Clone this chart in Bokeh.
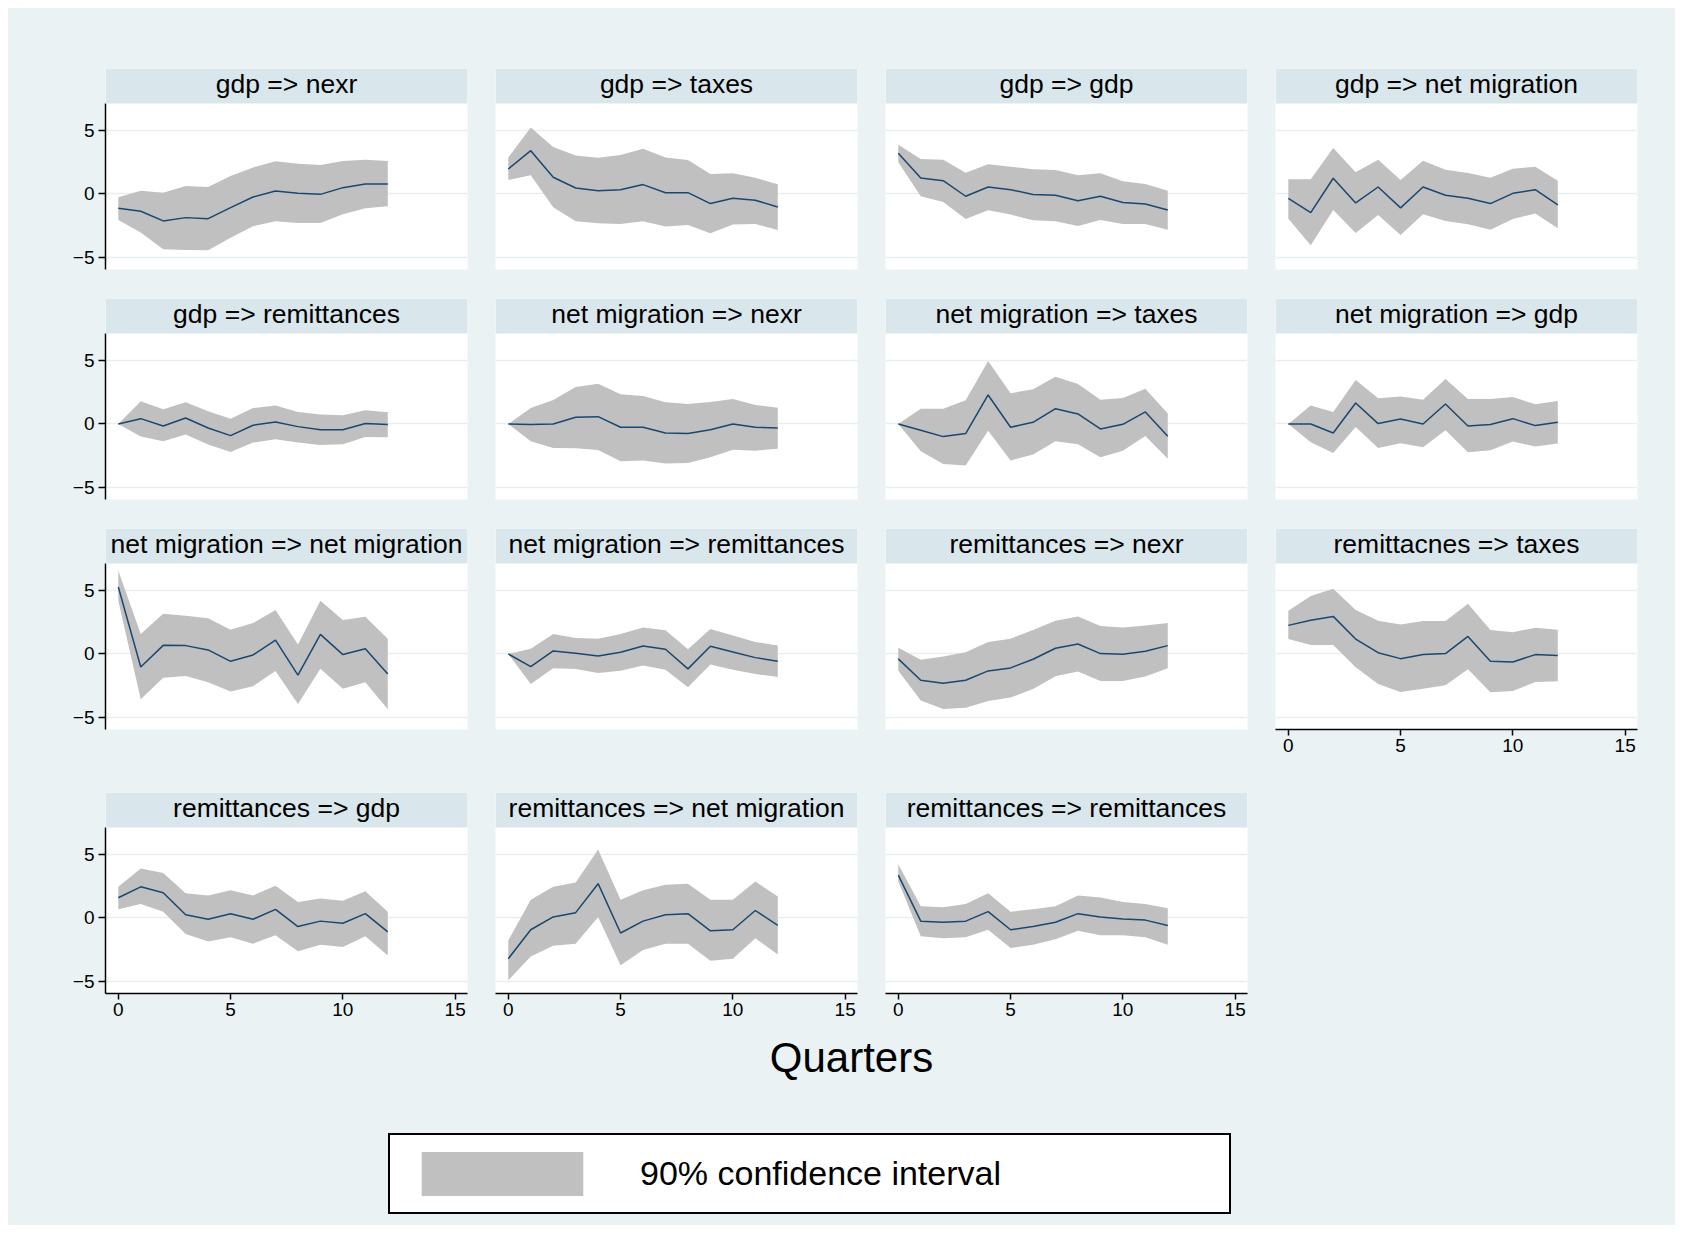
from bokeh.plotting import figure
from bokeh.models import (BoxAnnotation, Label, LinearAxis, FixedTicker, Grid, Range1d,
                          Legend, LegendItem, Spacer)
from bokeh.layouts import row, column
from bokeh.embed import file_html
from bokeh.resources import INLINE

# ---------------- data ----------------
quarters = list(range(13))
x_ticks = [0, 5, 10, 15]
y_ticks = [-5, 0, 5]
y_tick_labels = {-5: "\u22125", 0: "0", 5: "5"}

gdp_nexr_irf = [-1.13, -1.37, -2.13, -1.87, -1.95, -1.08, -0.24, 0.24, 0.05, -0.03, 0.50, 0.79, 0.79]
gdp_nexr_hi = [-0.26, 0.26, 0.10, 0.63, 0.55, 1.42, 2.10, 2.58, 2.39, 2.29, 2.60, 2.71, 2.60]
gdp_nexr_lo = [-2.05, -3.05, -4.37, -4.42, -4.45, -3.47, -2.55, -2.16, -2.29, -2.29, -1.60, -1.13, -0.97]

gdp_taxes_irf = [1.97, 3.42, 1.32, 0.47, 0.26, 0.34, 0.74, 0.10, 0.10, -0.76, -0.34, -0.50, -1.03]
gdp_taxes_hi = [2.89, 5.26, 3.71, 3.05, 2.87, 3.08, 3.58, 2.89, 2.68, 1.58, 1.63, 1.29, 0.76]
gdp_taxes_lo = [1.10, 1.47, -1.05, -2.16, -2.32, -2.37, -2.16, -2.58, -2.45, -3.10, -2.42, -2.37, -2.84]

gdp_gdp_irf = [3.21, 1.26, 1.05, -0.18, 0.55, 0.34, -0.05, -0.10, -0.53, -0.18, -0.68, -0.79, -1.26]
gdp_gdp_hi = [3.89, 2.76, 2.71, 1.68, 2.34, 2.16, 1.95, 1.89, 1.47, 1.63, 1.00, 0.79, 0.26]
gdp_gdp_lo = [2.50, -0.18, -0.63, -1.97, -1.29, -1.63, -2.08, -2.16, -2.53, -2.05, -2.37, -2.37, -2.82]

gdp_mig_irf = [-0.34, -1.47, 1.24, -0.71, 0.55, -1.10, 0.55, -0.10, -0.34, -0.76, 0.05, 0.34, -0.87]
gdp_mig_hi = [1.16, 1.16, 3.63, 1.71, 2.71, 1.10, 2.63, 1.92, 1.66, 1.29, 2.00, 2.16, 1.05]
gdp_mig_lo = [-1.95, -4.05, -1.26, -3.08, -1.66, -3.24, -1.60, -2.13, -2.39, -2.82, -1.97, -1.55, -2.71]

gdp_rem_irf = [0.00, 0.42, -0.16, 0.47, -0.32, -0.92, -0.10, 0.16, -0.21, -0.45, -0.45, 0.03, -0.05]
gdp_rem_hi = [0.00, 1.79, 1.16, 1.71, 1.00, 0.42, 1.26, 1.45, 0.95, 0.74, 0.68, 1.08, 0.92]
gdp_rem_lo = [0.00, -1.00, -1.37, -0.84, -1.63, -2.21, -1.47, -1.21, -1.47, -1.66, -1.60, -1.03, -1.05]

mig_nexr_irf = [0.00, -0.05, 0.00, 0.53, 0.58, -0.26, -0.26, -0.71, -0.76, -0.45, 0.00, -0.26, -0.32]
mig_nexr_hi = [0.00, 1.26, 1.89, 2.92, 3.18, 2.34, 2.21, 1.71, 1.58, 1.74, 1.97, 1.50, 1.29]
mig_nexr_lo = [0.00, -1.37, -1.89, -1.92, -2.05, -2.95, -2.89, -3.13, -3.08, -2.63, -2.03, -2.11, -1.95]

mig_taxes_irf = [0.00, -0.50, -1.00, -0.76, 2.29, -0.26, 0.13, 1.21, 0.79, -0.39, -0.03, 0.95, -0.97]
mig_taxes_hi = [0.00, 1.21, 1.21, 1.87, 4.97, 2.42, 2.74, 3.74, 3.16, 1.92, 2.05, 2.79, 0.82]
mig_taxes_lo = [0.00, -2.16, -3.16, -3.29, -0.53, -2.89, -2.42, -1.37, -1.60, -2.63, -2.11, -0.95, -2.74]

mig_gdp_irf = [0.00, 0.00, -0.71, 1.66, 0.03, 0.39, 0.00, 1.58, -0.16, -0.05, 0.42, -0.13, 0.13]
mig_gdp_hi = [0.00, 1.45, 0.95, 3.47, 2.03, 2.18, 1.92, 3.55, 1.97, 1.97, 2.13, 1.55, 1.82]
mig_gdp_lo = [0.00, -1.45, -2.29, -0.24, -1.89, -1.53, -1.84, -0.50, -2.24, -2.08, -1.39, -1.79, -1.55]

mig_mig_irf = [5.29, -1.03, 0.68, 0.66, 0.32, -0.58, -0.08, 1.10, -1.68, 1.55, -0.05, 0.42, -1.58]
mig_mig_hi = [6.58, 1.58, 3.18, 3.03, 2.82, 1.92, 2.45, 3.47, 0.74, 4.21, 2.68, 2.95, 1.21]
mig_mig_lo = [4.21, -3.58, -1.87, -1.74, -2.24, -2.97, -2.55, -1.34, -3.95, -1.16, -2.74, -2.24, -4.37]

mig_rem_irf = [0.00, -1.00, 0.24, 0.05, -0.16, 0.13, 0.63, 0.37, -1.18, 0.61, 0.16, -0.29, -0.58]
mig_rem_hi = [0.00, 0.42, 1.58, 1.26, 1.21, 1.58, 2.10, 1.87, 0.37, 1.97, 1.45, 0.95, 0.66]
mig_rem_lo = [0.00, -2.37, -1.13, -1.18, -1.50, -1.32, -0.92, -1.24, -2.63, -0.84, -1.24, -1.58, -1.82]

rem_nexr_irf = [-0.39, -2.08, -2.32, -2.08, -1.34, -1.10, -0.42, 0.45, 0.79, 0.03, -0.03, 0.21, 0.66]
rem_nexr_hi = [0.50, -0.45, -0.21, 0.13, 0.95, 1.21, 1.89, 2.63, 2.97, 2.21, 2.10, 2.24, 2.45]
rem_nexr_lo = [-1.32, -3.68, -4.34, -4.26, -3.71, -3.45, -2.76, -1.76, -1.39, -2.13, -2.13, -1.79, -1.13]

rem_taxes_irf = [2.26, 2.66, 2.97, 1.18, 0.10, -0.37, -0.05, 0.03, 1.39, -0.58, -0.63, -0.05, -0.13]
rem_taxes_hi = [3.42, 4.58, 5.16, 3.47, 2.63, 2.32, 2.61, 2.61, 3.97, 1.89, 1.71, 2.08, 1.92]
rem_taxes_lo = [1.18, 0.71, 0.71, -1.05, -2.37, -3.00, -2.74, -2.47, -1.21, -3.03, -2.92, -2.21, -2.16]

rem_gdp_irf = [1.60, 2.46, 2.00, 0.25, -0.10, 0.34, -0.10, 0.68, -0.68, -0.25, -0.42, 0.34, -1.10]
rem_gdp_hi = [2.46, 3.90, 3.56, 1.95, 1.78, 2.20, 1.78, 2.54, 1.27, 1.53, 1.36, 2.12, 0.50]
rem_gdp_lo = [0.68, 1.10, 0.50, -1.27, -1.86, -1.53, -2.03, -1.36, -2.63, -2.12, -2.29, -1.44, -2.97]

rem_mig_irf = [-3.22, -0.93, 0.08, 0.42, 2.71, -1.19, -0.25, 0.25, 0.34, -1.02, -0.93, 0.59, -0.59]
rem_mig_hi = [-1.78, 1.44, 2.46, 2.80, 5.42, 1.44, 2.20, 2.63, 2.71, 1.44, 1.44, 2.88, 1.69]
rem_mig_lo = [-4.92, -3.05, -2.20, -2.03, 0.08, -3.73, -2.54, -2.03, -2.03, -3.39, -3.22, -1.61, -2.88]

rem_rem_irf = [3.39, -0.25, -0.34, -0.25, 0.50, -0.93, -0.68, -0.34, 0.34, 0.08, -0.08, -0.17, -0.59]
rem_rem_hi = [4.24, 0.93, 0.85, 1.10, 1.95, 0.50, 0.68, 0.93, 1.78, 1.61, 1.27, 1.10, 0.76]
rem_rem_lo = [2.88, -1.44, -1.61, -1.53, -0.93, -2.37, -2.12, -1.69, -1.02, -1.36, -1.36, -1.53, -2.12]

titles = [
    "gdp => nexr", "gdp => taxes", "gdp => gdp", "gdp => net migration",
    "gdp => remittances", "net migration => nexr", "net migration => taxes", "net migration => gdp",
    "net migration => net migration", "net migration => remittances", "remittances => nexr", "remittacnes => taxes",
    "remittances => gdp", "remittances => net migration", "remittances => remittances",
]
series = [
    (gdp_nexr_irf, gdp_nexr_lo, gdp_nexr_hi), (gdp_taxes_irf, gdp_taxes_lo, gdp_taxes_hi),
    (gdp_gdp_irf, gdp_gdp_lo, gdp_gdp_hi), (gdp_mig_irf, gdp_mig_lo, gdp_mig_hi),
    (gdp_rem_irf, gdp_rem_lo, gdp_rem_hi), (mig_nexr_irf, mig_nexr_lo, mig_nexr_hi),
    (mig_taxes_irf, mig_taxes_lo, mig_taxes_hi), (mig_gdp_irf, mig_gdp_lo, mig_gdp_hi),
    (mig_mig_irf, mig_mig_lo, mig_mig_hi), (mig_rem_irf, mig_rem_lo, mig_rem_hi),
    (rem_nexr_irf, rem_nexr_lo, rem_nexr_hi), (rem_taxes_irf, rem_taxes_lo, rem_taxes_hi),
    (rem_gdp_irf, rem_gdp_lo, rem_gdp_hi), (rem_mig_irf, rem_mig_lo, rem_mig_hi),
    (rem_rem_irf, rem_rem_lo, rem_rem_hi),
]
x_title = "Quarters"
legend_label = "90% confidence interval"

# ---------------- style ----------------
BG = "#EAF2F3"
STRIP = "#D9E6EB"
BAND = "#C0C0C0"
LINE = "#1A476F"
GRIDC = "#E6EEF1"
FONT = "Liberation Sans"

X0, X1 = -0.57, 15.55
Y0, Y1 = -5.97, 7.15
PLOT_H, HEAD_H, FRAME_W = 166, 35, 362
FRAME_H = PLOT_H + HEAD_H
YTOP = Y1 + (Y1 - Y0) * HEAD_H / PLOT_H

COL_L = [97, 14, 14, 14]
COL_R = [14, 14, 14, 38]
ROW_T = [60, 0, 0, 0]
ROW_B = [29, 29, 63, 40]
TOTAL_W = 1667
TOTAL_H = 1217


def style_axis(ax):
    ax.axis_line_color = "black"
    ax.axis_line_width = 1.5
    ax.major_tick_line_color = "black"
    ax.major_tick_line_width = 1.5
    ax.major_tick_out = 7
    ax.major_tick_in = 0
    ax.minor_tick_line_color = None
    ax.major_label_text_font = FONT
    ax.major_label_text_font_size = "19px"
    ax.major_label_text_color = "black"
    ax.major_label_standoff = 4


def panel(idx, r, c, yaxis, xaxis):
    title = titles[idx]
    irf, lo, hi = series[idx]
    p = figure(width=COL_L[c] + FRAME_W + COL_R[c], height=ROW_T[r] + FRAME_H + ROW_B[r],
               x_range=Range1d(X0, X1), y_range=Range1d(Y0, YTOP),
               x_axis_type=None, y_axis_type=None, title=None,
               output_backend="svg", toolbar_location=None,
               min_border_left=COL_L[c], min_border_right=COL_R[c],
               min_border_top=ROW_T[r], min_border_bottom=ROW_B[r])
    p.background_fill_color = "white"
    p.border_fill_color = BG
    p.outline_line_color = None
    p.add_layout(Grid(dimension=1, ticker=FixedTicker(ticks=y_ticks),
                      grid_line_color=GRIDC, grid_line_width=1.5))
    p.varea(x=quarters, y1=lo, y2=hi, fill_color=BAND, fill_alpha=1)
    p.line(x=quarters, y=irf, line_color=LINE, line_width=1.5)
    p.add_layout(BoxAnnotation(bottom=Y1, fill_color=STRIP, fill_alpha=1, line_color=None))
    p.add_layout(Label(x=(X0 + X1) / 2, y=(Y1 + YTOP) / 2, y_offset=2, text=title,
                       text_align="center", text_baseline="middle",
                       text_font=FONT, text_font_size="26.5px", text_color="black"))
    if yaxis:
        ax = LinearAxis(ticker=FixedTicker(ticks=y_ticks), bounds=(Y0, Y1),
                        major_label_overrides=y_tick_labels)
        style_axis(ax)
        p.add_layout(ax, "left")
    if xaxis:
        ax = LinearAxis(ticker=FixedTicker(ticks=x_ticks))
        style_axis(ax)
        ax.major_tick_out = 6
        ax.major_label_standoff = 3
        p.add_layout(ax, "below")
    return p


rows = []
idx = 0
for r in range(4):
    figs = []
    for c in range(4):
        if idx >= len(titles):
            figs.append(Spacer(width=COL_L[c] + FRAME_W + COL_R[c],
                               height=ROW_T[r] + FRAME_H + ROW_B[r],
                               styles={"background-color": BG}))
            continue
        xaxis = (r == 3) or (r == 2 and c == 3)
        figs.append(panel(idx, r, c, yaxis=(c == 0), xaxis=xaxis))
        idx += 1
    rows.append(row(*figs, spacing=0))

used_h = sum(ROW_T[r] + FRAME_H + ROW_B[r] for r in range(4))
bot_h = TOTAL_H - used_h
bottom = figure(width=TOTAL_W, height=bot_h, x_range=Range1d(0, TOTAL_W), y_range=Range1d(0, bot_h),
                x_axis_type=None, y_axis_type=None, title=None,
                output_backend="svg", toolbar_location=None,
                min_border_left=0, min_border_right=0, min_border_top=0, min_border_bottom=0)
bottom.background_fill_color = BG
bottom.border_fill_color = BG
bottom.outline_line_color = None
bottom.add_layout(Label(x=843, y=bot_h - 24, text=x_title, text_align="center",
                        text_baseline="middle", text_font=FONT, text_font_size="42px",
                        text_color="black"))
# legend key only: a band renderer with no visible extent
dummy = bottom.varea(x=[0, 1], y1=[float("nan"), float("nan")], y2=[float("nan"), float("nan")],
                     fill_color=BAND, fill_alpha=1)
legend = Legend(items=[LegendItem(label=legend_label, renderers=[dummy])],
                location=(380, 11), orientation="vertical", padding=11, margin=0,
                glyph_width=202, glyph_height=55, label_standoff=37, label_width=578,
                label_height=55, label_text_font=FONT, label_text_font_size="34px",
                label_text_color="black", border_line_color="black", border_line_width=2,
                border_line_alpha=1,
                background_fill_color="white", background_fill_alpha=1)
bottom.add_layout(legend, "center")

root = column(*rows, bottom, spacing=0, margin=(8, 0, 0, 8),
              styles={"background-color": BG})

open("out.html", "w").write(file_html(root, INLINE, title="IRF panels"))
